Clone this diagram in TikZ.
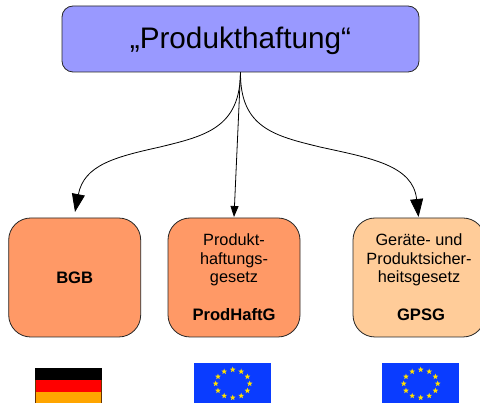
\documentclass[tikz,border=0pt]{standalone}
\usepackage{fontspec}
\setmainfont{Liberation Sans}
\usetikzlibrary{shapes.geometric,arrows.meta}
\definecolor{topblue}{HTML}{9999FF}
\definecolor{orangeA}{HTML}{FF9966}
\definecolor{orangeB}{HTML}{FFCC99}
\definecolor{eublue}{HTML}{0A3CFF}
\definecolor{eustar}{HTML}{FFE000}
\definecolor{flagorange}{HTML}{FFA500}
\tikzset{
  topbox/.style={draw=black!85,line width=0.8pt,rounded corners=11pt,fill=topblue,minimum width=357pt,minimum height=66pt,inner sep=0pt},
  titletxt/.style={font=\fontsize{29.7}{36}\selectfont,inner sep=0pt},
  lawbox/.style={draw=black!85,line width=0.8pt,rounded corners=22pt,minimum width=132pt,minimum height=119pt,inner sep=0pt},
  bodytxt/.style={font=\fontsize{16.3}{18.7}\selectfont,align=center,inner sep=0pt},
  boldtxt/.style={font=\fontsize{16.6}{19}\selectfont\bfseries,inner sep=0pt},
  bigarrow/.style={line width=0.8pt,-{Triangle[length=18pt,width=13pt]}},
  smallarrow/.style={line width=0.8pt,-{Triangle[length=11pt,width=8pt]}},
  eustarmark/.style={star,star points=5,star point ratio=2.4,fill=eustar,inner sep=0pt,minimum size=6pt}
}
\begin{document}
\begin{tikzpicture}[x=1pt,y=-1pt]
\useasboundingbox (0,0) rectangle (480,403);
\clip (0,0) rectangle (480,403);
\node[topbox] (top) at (240.5,39) {};
\node[titletxt] (topt) at (240.5,40.5) {„Produkthaftung“};
\node[lawbox,fill=orangeA] (bgb) at (74.7,277.5) {};
\node[lawbox,fill=orangeA] (prod) at (234,277.5) {};
\node[lawbox,fill=orangeB] (gpsg) at (419,277.5) {};
\node[boldtxt] (bgbt) at (74.7,278) {BGB};
\node[bodytxt] (prodt) at (234,260) {Produkt-\\haftungs-\\gesetz};
\node[boldtxt] (prodb) at (234,315) {ProdHaftG};
\node[bodytxt] (gpsgt) at (419,260) {Geräte- und\\Produktsicher-\\heitsgesetz};
\node[boldtxt] (gpsgb) at (421,315) {GPSG};
\coordinate (s) at (top.south);
\coordinate (tb) at (75,212);
\coordinate (tp) at (234,217);
\coordinate (tg) at (418.5,217);
\draw[bigarrow] (s) .. controls (240,128) and (205,136) .. (160,147) .. controls (115,157) and (84,165) .. (tb);
\draw[smallarrow] (s) -- (tp);
\draw[bigarrow] (s) .. controls (240,128) and (275,136) .. (320,147) .. controls (370,158) and (413,165) .. (tg);
% German flag
\fill[black] (35,368) rectangle (102,380);
\fill[red] (35,380) rectangle (102,392);
\fill[flagorange] (35,392) rectangle (102,403);
\draw[black!60!orange,line width=0.7pt] (35.3,380) -- (35.3,403) (101.7,380) -- (101.7,403);
% EU flags
\foreach \cx/\lx in {232.7/194,420.7/382}{
  \fill[eublue] (\lx,363) rectangle (\lx+77,403);
  \foreach \a in {0,30,...,330}{
    \node[eustarmark] at ({\cx+17*sin(\a)},{383.7-14*cos(\a)}) {};
  }
}
\end{tikzpicture}
\end{document}
